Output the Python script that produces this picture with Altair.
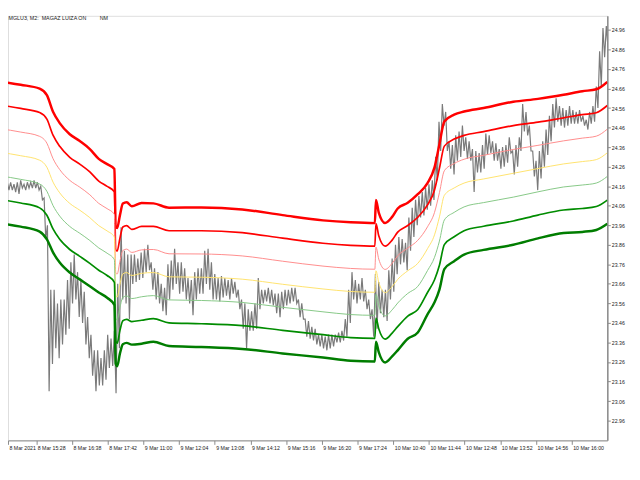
import altair as alt
import pandas as pd

# ---------------- data ----------------
title_text = "MGLU3, M2:\u00a0 MAGAZ LUIZA ON" + "\u00a0" * 9 + "NM"

x_tick_labels = ["8 Mar 2021", "8 Mar 15:28", "8 Mar 16:38", "8 Mar 17:42", "9 Mar 11:00",
                 "9 Mar 12:04", "9 Mar 13:08", "9 Mar 14:12", "9 Mar 15:16", "9 Mar 16:20",
                 "9 Mar 17:24", "10 Mar 10:40", "10 Mar 11:44", "10 Mar 12:48", "10 Mar 13:52",
                 "10 Mar 14:56", "10 Mar 16:00"]
x_tick_bars = [6.64, 32, 64, 96, 128, 160, 192, 224, 256, 288, 320, 352, 384, 416, 448, 480, 512]

y_ticks = [22.96, 23.06, 23.16, 23.26, 23.36, 23.46, 23.56, 23.66, 23.76, 23.86, 23.96,
           24.06, 24.16, 24.26, 24.36, 24.46, 24.56, 24.66, 24.76, 24.86, 24.96]

# price, sampled every 3 bars (M2 bars)
bar_step = 3
price_high = [
    24.20, 24.19, 24.18, 24.18, 24.17, 24.18, 24.19, 24.17, 24.18, 24.18, 24.19, 24.18,
    24.16, 24.10, 23.96, 23.63, 23.63, 23.56, 23.58, 23.58, 23.68, 23.77, 23.81, 23.72,
    23.68, 23.62, 23.49, 23.40, 23.32, 23.32, 23.28, 23.32, 23.40, 23.38, 23.42, 23.66,
    23.95, 23.83, 23.81, 23.81, 23.81, 23.79, 23.82, 23.84, 23.86, 23.77, 23.74, 23.72,
    23.66, 23.64, 23.76, 23.78, 23.84, 23.77, 23.77, 23.74, 23.69, 23.68, 23.72, 23.74,
    23.74, 23.83, 23.84, 23.77, 23.71, 23.69, 23.70, 23.69, 23.68, 23.69, 23.67, 23.63,
    23.58, 23.56, 23.53, 23.52, 23.56, 23.69, 23.63, 23.63, 23.64, 23.63, 23.61, 23.61,
    23.62, 23.63, 23.63, 23.64, 23.64, 23.58, 23.56, 23.48, 23.47, 23.44, 23.43, 23.40,
    23.40, 23.39, 23.40, 23.40, 23.40, 23.41, 23.42, 23.48, 23.63, 23.72, 23.68, 23.66,
    23.69, 23.63, 23.58, 23.53, 23.71, 23.67, 23.63, 23.63, 23.73, 23.79, 23.86, 23.90,
    23.89, 23.87, 24.00, 24.05, 24.09, 24.11, 24.13, 24.15, 24.17, 24.19, 24.31, 24.49,
    24.58, 24.54, 24.39, 24.37, 24.42, 24.44, 24.47, 24.41, 24.39, 24.35, 24.34, 24.33,
    24.37, 24.43, 24.42, 24.39, 24.38, 24.35, 24.36, 24.37, 24.41, 24.34, 24.37, 24.41,
    24.58, 24.54, 24.47, 24.34, 24.29, 24.34, 24.39, 24.45, 24.52, 24.58, 24.61, 24.57,
    24.56, 24.55, 24.57, 24.55, 24.54, 24.55, 24.52, 24.50, 24.54, 24.57, 24.67, 24.85,
    24.97, 24.98]
price_low = [
    24.16, 24.15, 24.14, 24.14, 24.13, 24.12, 24.15, 24.14, 24.15, 24.15, 24.15, 24.14,
    24.09, 23.89, 23.11, 23.25, 23.33, 23.28, 23.35, 23.40, 23.43, 23.56, 23.58, 23.49,
    23.46, 23.35, 23.28, 23.19, 23.11, 23.14, 23.14, 23.17, 23.23, 23.24, 23.10, 23.33,
    23.58, 23.56, 23.48, 23.66, 23.67, 23.68, 23.69, 23.72, 23.73, 23.63, 23.58, 23.56,
    23.52, 23.50, 23.58, 23.63, 23.66, 23.61, 23.62, 23.58, 23.56, 23.50, 23.58, 23.61,
    23.61, 23.66, 23.63, 23.58, 23.58, 23.57, 23.59, 23.60, 23.58, 23.61, 23.59, 23.53,
    23.43, 23.33, 23.42, 23.42, 23.43, 23.53, 23.56, 23.57, 23.56, 23.55, 23.51, 23.49,
    23.53, 23.55, 23.56, 23.57, 23.56, 23.49, 23.48, 23.39, 23.38, 23.37, 23.35, 23.34,
    23.33, 23.32, 23.33, 23.34, 23.36, 23.36, 23.37, 23.39, 23.46, 23.58, 23.56, 23.58,
    23.57, 23.53, 23.48, 23.39, 23.43, 23.51, 23.49, 23.47, 23.58, 23.62, 23.71, 23.76,
    23.77, 23.73, 23.83, 23.90, 23.96, 24.00, 24.01, 24.04, 24.06, 24.09, 24.19, 24.34,
    24.47, 24.34, 24.25, 24.22, 24.29, 24.31, 24.34, 24.30, 24.29, 24.13, 24.23, 24.23,
    24.25, 24.32, 24.33, 24.29, 24.29, 24.25, 24.26, 24.28, 24.33, 24.22, 24.26, 24.34,
    24.44, 24.42, 24.34, 24.21, 24.14, 24.20, 24.26, 24.32, 24.39, 24.46, 24.49, 24.47,
    24.46, 24.47, 24.48, 24.48, 24.48, 24.49, 24.47, 24.45, 24.48, 24.49, 24.56, 24.67,
    24.82, 24.87]

# VWAP centre and band width (one deviation) at sampled bars
band_bar = [0, 18, 35, 41.5, 47, 53, 62, 71, 80, 88, 95.5, 102, 103.2, 104.5, 107, 109.6,
            113, 117.6, 126.4, 137, 151, 180, 216.6, 252.8, 289, 313.8, 335.5, 336.5, 339,
            344.7, 351, 356, 365, 374, 382.7, 389, 393.4, 397.8, 406.6, 415.5, 433, 459.6,
            481.7, 504.7, 521.5, 534, 543.9]
band_vwap = [24.333, 24.316, 24.293, 24.257, 24.181, 24.126, 24.072, 24.037, 23.999, 23.958,
             23.931, 23.900, 23.602, 23.592, 23.658, 23.711, 23.718, 23.703, 23.714, 23.718,
             23.696, 23.694, 23.684, 23.658, 23.634, 23.621, 23.617, 23.727, 23.668, 23.615,
             23.646, 23.683, 23.727, 23.765, 23.840, 23.911, 24.003, 24.113, 24.151, 24.176,
             24.197, 24.226, 24.250, 24.274, 24.286, 24.296, 24.331]
band_dev = [0.121, 0.121, 0.122, 0.123, 0.120, 0.119, 0.118, 0.118, 0.117, 0.114,
            0.114, 0.116, 0.117, 0.118, 0.118, 0.120, 0.120, 0.118, 0.120, 0.118,
            0.118, 0.119, 0.119, 0.118, 0.117, 0.118, 0.118, 0.121, 0.119, 0.119,
            0.119, 0.121, 0.116, 0.118, 0.112, 0.115, 0.124, 0.126, 0.125, 0.122,
            0.121, 0.122, 0.119, 0.118, 0.120, 0.120, 0.121]

band_mult = [3, 2, 1, 0, -1, -2, -3]
band_colors = ["#ff0000", "#ff0000", "#ff8c8c", "#ffe36e", "#86c886", "#008c00", "#007d00"]
band_widths = [2.5, 1.7, 1.0, 1.0, 1.0, 1.7, 2.5]

# ---------------- build tables ----------------
rows = []
for i, (hi, lo) in enumerate(zip(price_high, price_low)):
    rows.append({"bar": i * bar_step, "price": hi})
    rows.append({"bar": i * bar_step + bar_step / 2, "price": lo})
price_df = pd.DataFrame(rows)

x_dom = [6.64, 543.9]
y_dom = [22.859, 25.032]
FONT = "Liberation Sans"
labels_js = "[" + ",".join("'" + s + "'" for s in x_tick_labels) + "]"

x_scale = alt.Scale(domain=x_dom, nice=False, zero=False)
y_scale = alt.Scale(domain=y_dom, nice=False, zero=False)

x_axis = alt.Axis(values=x_tick_bars, labelExpr=labels_js + "[round(datum.value/32)]",
                  title=None, grid=False, orient="bottom", tickSize=4,
                  labelAlign="left", labelBaseline="top", labelOffset=1, labelPadding=1,
                  labelFont=FONT, labelFontSize=5.3, labelColor="#222222",
                  labelOverlap=False, labelFlush=False, labelBound=False,
                  domainColor="#8a8a8a", tickColor="#8a8a8a")
y_axis = alt.Axis(values=y_ticks, format=".2f", title=None, grid=False, orient="right",
                  tickSize=3, labelPadding=1, labelAlign="left", labelBaseline="middle",
                  labelFont=FONT, labelFontSize=5.3, labelColor="#222222",
                  labelOverlap=False, labelFlush=False, labelBound=False,
                  domainColor="#8a8a8a", domainWidth=1.5, tickColor="#8a8a8a")

price = alt.Chart(price_df).mark_line(color="#7a7a7a", strokeWidth=1.2, clip=True).encode(
    x=alt.X("bar:Q", scale=x_scale, axis=x_axis),
    y=alt.Y("price:Q", scale=y_scale, axis=y_axis))

layers = [price]
for k, col, w in zip(band_mult, band_colors, band_widths):
    bdf = pd.DataFrame({"bar": band_bar,
                        "price": [c + k * d for c, d in zip(band_vwap, band_dev)]})
    layers.append(alt.Chart(bdf).mark_line(color=col, strokeWidth=w, clip=True,
                                           interpolate="monotone").encode(
        x=alt.X("bar:Q", scale=x_scale, axis=x_axis),
        y=alt.Y("price:Q", scale=y_scale, axis=y_axis)))

chart = alt.layer(*layers).properties(
    width=607, height=430,
    autosize=alt.AutoSizeParams(type="none"),
    padding={"left": 0, "top": 5, "right": 25, "bottom": 20},
    title=alt.TitleParams(text=title_text, anchor="start", orient="top", font=FONT,
                          fontSize=5.4, fontWeight="normal", color="#222222",
                          offset=0, dx=1, dy=6, baseline="top"),
).configure_view(stroke="#a0a0a0", strokeWidth=1.5).configure_axis(
    labelOverlap=False, labelFlush=False
).configure(background="white")

chart.save("out.html", embed_options={"renderer": "svg", "actions": False})
